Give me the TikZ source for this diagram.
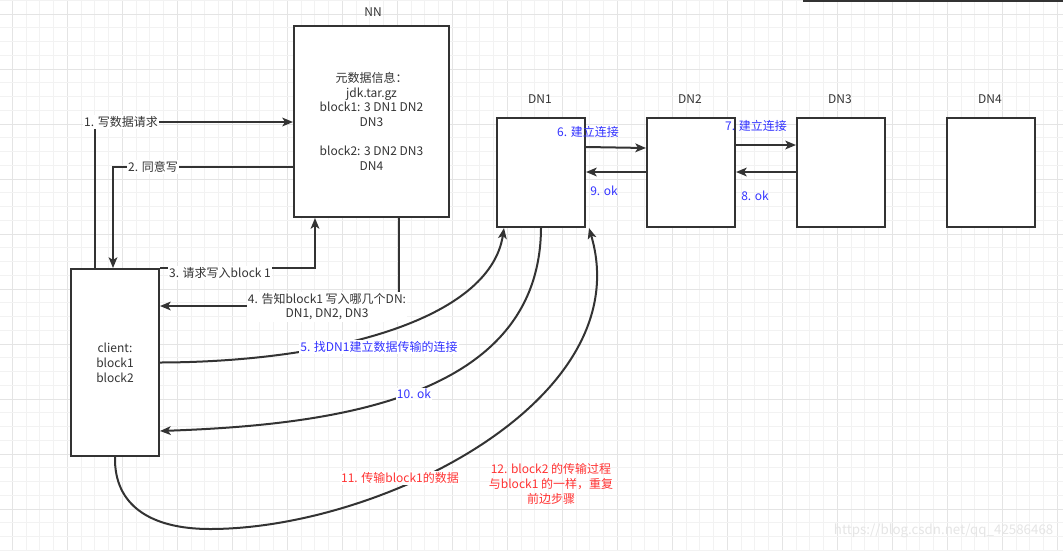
\documentclass[tikz,border=0pt]{standalone}
\usepackage{fontspec}
\setmainfont{Noto Sans CJK SC}
\usetikzlibrary{arrows.meta,calc}
\definecolor{ink}{HTML}{333333}
\definecolor{bluet}{HTML}{3333FF}
\definecolor{redt}{HTML}{FF3333}
\definecolor{gminor}{HTML}{F2F2F2}
\definecolor{gmajor}{HTML}{E4E4E4}
\begin{document}
\begin{tikzpicture}[x=0.75pt,y=-0.75pt,
  box/.style={draw=ink, line width=1.5pt, fill=white, anchor=north west, inner sep=2pt, align=center, text=ink},
  conn/.style={draw=ink, line width=1.5pt, -{Stealth[length=8pt,width=6.5pt,inset=2pt]}},
  lbl/.style={fill=white, inner sep=1pt, text=ink, align=center, font=\fontsize{9}{10.5}\selectfont},
  bluelbl/.style={lbl, fill=none, text=bluet},
  redlbl/.style={lbl, text=redt},
  ttl/.style={text=ink, font=\fontsize{9}{11}\selectfont},
  gmin/.style={draw=gminor, line width=0.75pt},
  gmaj/.style={draw=gmajor, line width=0.75pt}
]
\useasboundingbox (0,0) rectangle (1063,551);
\fill[white] (0,0) rectangle (1063,551);
% grid
\foreach \i in {0,...,77}{
  \pgfmathtruncatemacro{\m}{mod(\i,4)}
  \ifnum\m=0 \draw[gmaj] ({12.3+13.75*\i},0) -- ({12.3+13.75*\i},551);
  \else \draw[gmin] ({12.3+13.75*\i},0) -- ({12.3+13.75*\i},551); \fi
}
\foreach \j in {0,...,40}{
  \pgfmathtruncatemacro{\m}{mod(\j,4)}
  \ifnum\m=1 \draw[gmaj] (0,{0.3+13.75*\j}) -- (1063,{0.3+13.75*\j});
  \else \draw[gmin] (0,{0.3+13.75*\j}) -- (1063,{0.3+13.75*\j}); \fi
}
\draw[ink, line width=1.5pt] (803,1) -- (1063,1);

% boxes
\node[box, minimum width=116.25pt, minimum height=143.25pt, font=\fontsize{9}{11}\selectfont] (nn) at (293,25)
  {元数据信息：\\jdk.tar.gz\\block1: 3 DN1 DN2\\DN3\\[11pt]block2: 3 DN2 DN3\\DN4};
\node[box, minimum width=66pt, minimum height=140.25pt, font=\fontsize{9}{11.25}\selectfont] (client) at (70,268)
  {client:\\block1\\block2};
\node[box, minimum width=66pt, minimum height=81.75pt] (dn1) at (496,117) {};
\node[box, minimum width=66pt, minimum height=81.75pt] (dn2) at (646,117) {};
\node[box, minimum width=66pt, minimum height=81.75pt] (dn3) at (796,117) {};
\node[box, minimum width=66pt, minimum height=81.75pt] (dn4) at (946,117) {};

% titles
\node[ttl] (tnn) at (373,12) {NN};
\node[ttl] (t1) at (540,99) {DN1};
\node[ttl] (t2) at (690,99) {DN2};
\node[ttl] (t3) at (840,99) {DN3};
\node[ttl] (t4) at (990,99) {DN4};

% client <-> NN
\draw[conn] ($(client.north west)+(25,0)$) |- ($(nn.north west)+(0,97)$);
\draw[conn] ($(nn.north west)+(0,142)$) -| ($(client.north west)+(43,0)$);
\draw[conn] (client.north east) -| ($(nn.south west)+(22,0)$);
\draw[conn] ($(nn.south west)+(106,0)$) |- ($(client.north east)+(0,38)$);

% client <-> DN1
\draw[conn] (client.east) .. controls (330,362) and (490,320) .. ($(dn1.south west)+(8,0)$);
\draw[conn] (dn1.south) .. controls (540,400) and (330,425) .. ($(client.south east)+(0,-26)$);
\draw[conn] (client.south) .. controls (114,505) and (150,529) .. (210,529)
  .. controls (380,529) and (640,400) .. ($(dn1.south east)+(3,0)$);

% DN pipeline
\draw[conn] ($(dn1.north east)+(0,30)$) -- ($(dn2.north west)+(0,31)$);
\draw[conn] ($(dn2.north west)+(0,55)$) -- ($(dn1.north east)+(0,55)$);
\draw[conn] ($(dn2.north east)+(0,28)$) -- ($(dn3.north west)+(0,28)$);
\draw[conn] ($(dn3.north west)+(0,55)$) -- ($(dn2.north east)+(0,55)$);

% labels
\node[lbl] (l1) at (121,122) {1. 写数据请求};
\node[lbl] (l2) at (153,167) {2. 同意写};
\node[lbl] (l3) at (220,273) {3. 请求写入block 1};
\node[lbl] (l4) at (327,307) {4. 告知block1 写入哪几个DN:\\DN1, DN2, DN3};
\node[lbl, text=bluet] (l5) at (379,347) {5. 找DN1建立数据传输的连接};
\node[bluelbl] (l6) at (588,132) {6. 建立连接};
\node[bluelbl] (l7) at (756,126) {7. 建立连接};
\node[bluelbl] (l8) at (755,196) {8. ok};
\node[bluelbl] (l9) at (604,191) {9. ok};
\node[lbl, text=bluet] (l10) at (414,394) {10. ok};
\node[redlbl] (l11) at (400,478) {11. 传输block1的数据};
\node[lbl, fill=none, text=redt, font=\fontsize{9}{11.5}\selectfont] (l12) at (551,484) {12. block2 的传输过程\\与block1 的一样，重复\\前边步骤};

\node[text=black!10, font=\fontsize{10}{12}\selectfont, anchor=east] (wm) at (1058,531) {https://blog.csdn.net/qq\_42586468};
\end{tikzpicture}
\end{document}
